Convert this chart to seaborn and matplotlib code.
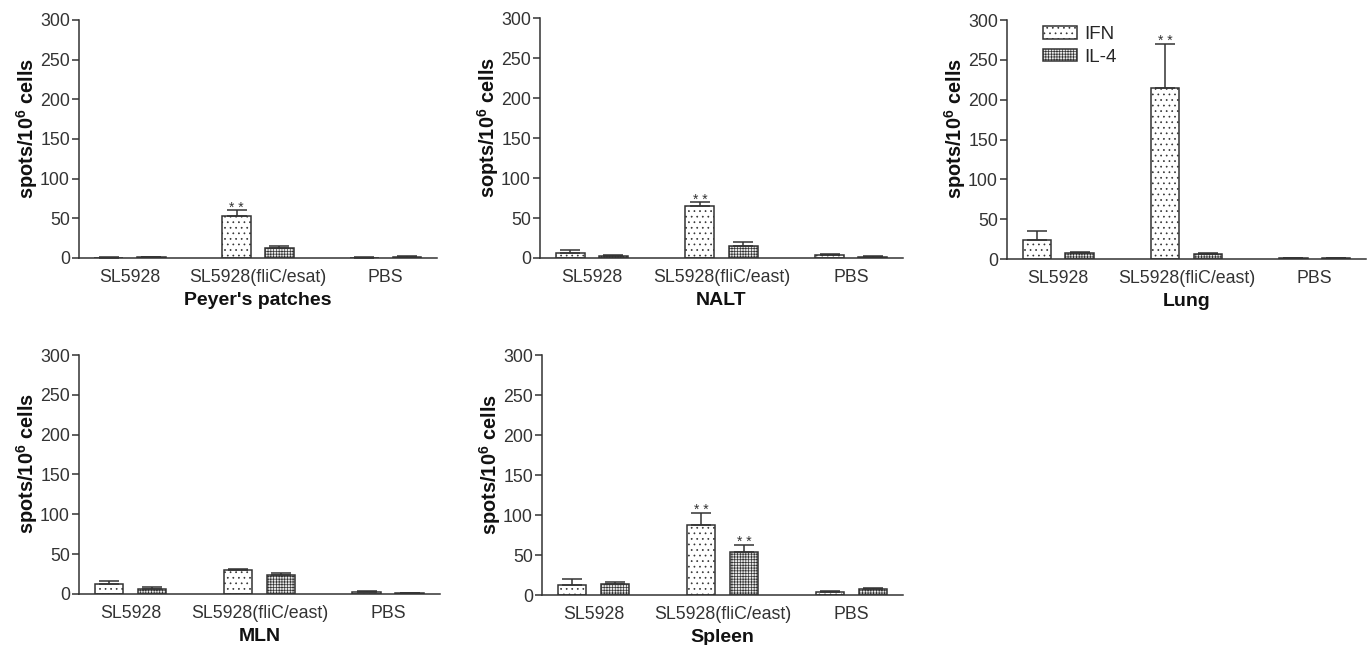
import matplotlib
matplotlib.use('Agg')
import matplotlib.pyplot as plt
import seaborn as sns
import numpy as np
import pandas as pd

# cytokine spot counts (mean and upper SEM)
cytokines = ['IFN', 'IL-4']

peyer_groups = ['SL5928', 'SL5928(fliC/esat)', 'PBS']
peyer_ifn = [0.5, 53, 0.5]
peyer_ifn_err = [0.3, 7, 0.3]
peyer_il4 = [1.0, 13, 1.5]
peyer_il4_err = [0.5, 2.5, 0.6]
peyer_sig = [[False, True, False], [False, False, False]]

east_groups = ['SL5928', 'SL5928(fliC/east)', 'PBS']

nalt_ifn = [6.7, 65.5, 3.3]
nalt_ifn_err = [2.9, 4.3, 1.3]
nalt_il4 = [2.5, 15, 1.5]
nalt_il4_err = [0.8, 5, 0.4]
nalt_sig = [[False, True, False], [False, False, False]]

lung_ifn = [24.4, 215, 1.3]
lung_ifn_err = [11, 55, 0.3]
lung_il4 = [7.6, 5.9, 1.3]
lung_il4_err = [1.6, 1.2, 0.5]
lung_sig = [[False, True, False], [False, False, False]]

mln_ifn = [12.5, 30, 2.5]
mln_ifn_err = [3.4, 1.8, 1.3]
mln_il4 = [6.3, 24.2, 1.0]
mln_il4_err = [2.1, 2.1, 0.4]
mln_sig = [[False, False, False], [False, False, False]]

spleen_ifn = [12, 87.5, 3.3]
spleen_ifn_err = [8.4, 15, 1.3]
spleen_il4 = [13.3, 53.3, 7.1]
spleen_il4_err = [2.5, 9.2, 1.2]
spleen_sig = [[False, True, False], [False, True, False]]

y_ticks = [0, 50, 100, 150, 200, 250, 300]

sns.set_style('ticks')
plt.rcParams['font.family'] = ['Liberation Sans', 'DejaVu Sans']
plt.rcParams['mathtext.fontset'] = 'custom'
plt.rcParams['mathtext.rm'] = 'Liberation Sans'
plt.rcParams['mathtext.bf'] = 'Liberation Sans:bold'
plt.rcParams['hatch.color'] = '#666666'
plt.rcParams['hatch.linewidth'] = 0.5

dark = '#333333'
hatches = ['...', '++++++']
faces = ['white', '#e8e8e8']

fig = plt.figure(figsize=(13.68, 6.45), dpi=100, facecolor='white')


def draw_panel(rect, groups, ifn, ifn_err, il4, il4_err, sig, title, ylabel, legend=False):
    ax = fig.add_axes(rect)
    df = pd.DataFrame({
        'group': groups * 2,
        'cytokine': ['IFN'] * 3 + ['IL-4'] * 3,
        'value': ifn + il4,
    })
    sns.barplot(data=df, x='group', y='value', hue='cytokine', order=groups,
                hue_order=cytokines, palette=faces, width=0.667, gap=0.33,
                errorbar=None, edgecolor=dark, linewidth=1.1, legend=False, ax=ax)

    bar_sets = list(ax.containers)
    errs = [ifn_err, il4_err]
    vals = [ifn, il4]
    for k, cont in enumerate(bar_sets):
        xs = []
        for p in cont.patches:
            p.set_hatch(hatches[k])
            xs.append(p.get_x() + p.get_width() / 2)
        ax.errorbar(xs, vals[k], yerr=[np.zeros(3), errs[k]], fmt='none',
                    ecolor=dark, elinewidth=1.1, capsize=7, capthick=1.1, zorder=3)
        for i in range(3):
            if sig[k][i]:
                ax.annotate('* *', (xs[i], vals[k][i] + errs[k][i]),
                            xytext=(0, -1), textcoords='offset points',
                            ha='center', va='baseline', fontsize=10, color=dark)

    ax.set_xlim(-0.4, 2.4)
    ax.set_ylim(0, 300)
    ax.set_yticks(y_ticks)
    sns.despine(ax=ax)
    for s in ['left', 'bottom']:
        ax.spines[s].set_color(dark)
        ax.spines[s].set_linewidth(1.1)
    ax.tick_params(axis='y', direction='out', length=5, width=1.1, color=dark,
                   labelsize=12.8, labelcolor=dark, pad=1.5)
    ax.tick_params(axis='x', length=0, labelsize=12.8, labelcolor=dark, pad=8)
    ax.set_xlabel(title, fontsize=14, fontweight='bold', color='#111111', labelpad=4)
    ax.set_ylabel(ylabel, fontsize=14.4, fontweight='bold', color='#111111', labelpad=0)
    ax.yaxis.label.set_y(0.545)

    if legend:
        ax.legend(handles=bar_sets, labels=cytokines, loc='upper left',
                  bbox_to_anchor=(0.1, 0.975), frameon=False, fontsize=13.5,
                  handlelength=1.8, handleheight=0.65, handletextpad=0.4,
                  labelspacing=0.3, borderpad=0, borderaxespad=0)
    return ax


ylab = r'spots/10$^{\mathbf{6}}$ cells'
draw_panel([0.0577, 0.600, 0.2617, 0.369], peyer_groups, peyer_ifn, peyer_ifn_err,
           peyer_il4, peyer_il4_err, peyer_sig, "Peyer's patches", ylab)
draw_panel([0.3947, 0.600, 0.2654, 0.372], east_groups, nalt_ifn, nalt_ifn_err,
           nalt_il4, nalt_il4_err, nalt_sig, 'NALT', r'sopts/10$^{\mathbf{6}}$ cells')
draw_panel([0.7361, 0.5984, 0.2624, 0.3705], east_groups, lung_ifn, lung_ifn_err,
           lung_il4, lung_il4_err, lung_sig, 'Lung', ylab, legend=True)
draw_panel([0.0577, 0.0791, 0.2639, 0.3705], east_groups, mln_ifn, mln_ifn_err,
           mln_il4, mln_il4_err, mln_sig, 'MLN', ylab)
draw_panel([0.3962, 0.0775, 0.2639, 0.372], east_groups, spleen_ifn, spleen_ifn_err,
           spleen_il4, spleen_il4_err, spleen_sig, 'Spleen', ylab)

fig.savefig('out.png', dpi=100, facecolor='white')
plt.close(fig)
